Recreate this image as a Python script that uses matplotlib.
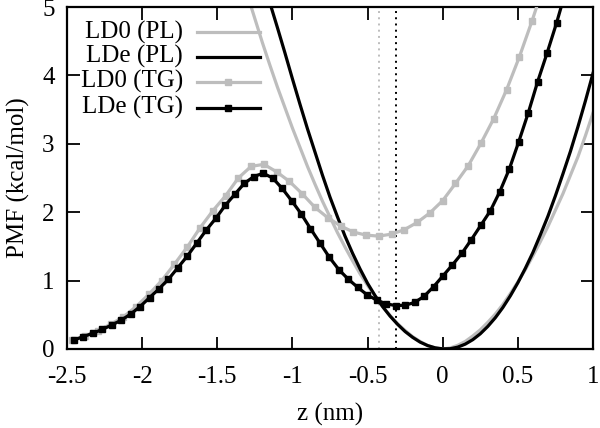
import matplotlib.pyplot as plt
from matplotlib.lines import Line2D

plt.rcParams['font.family'] = ['Liberation Serif', 'DejaVu Serif']

GRAY = '#bdbdbd'

# LD0 (PL)
pl0_z = [-1.30, -1.25, -1.20, -1.15, -1.10, -1.05, -1.00, -0.95, -0.90, -0.85,
         -0.80, -0.75, -0.70, -0.65, -0.60, -0.55, -0.50, -0.45, -0.40, -0.35,
         -0.30, -0.25, -0.20, -0.15, -0.10, -0.05, 0.00, 0.05, 0.10, 0.15,
         0.20, 0.25, 0.30, 0.35, 0.40, 0.45, 0.50, 0.55, 0.60, 0.65,
         0.70, 0.75, 0.80, 0.85, 0.90, 0.95, 1.00]
pl0_pmf = [5.18, 4.83, 4.48, 4.15, 3.83, 3.53, 3.23, 2.95, 2.67, 2.41,
           2.16, 1.93, 1.70, 1.49, 1.29, 1.10, 0.93, 0.77, 0.62, 0.49,
           0.37, 0.27, 0.18, 0.11, 0.05, 0.015, 0.0, 0.015, 0.054, 0.11,
           0.19, 0.28, 0.39, 0.51, 0.65, 0.81, 0.98, 1.16, 1.36, 1.57,
           1.79, 2.03, 2.27, 2.54, 2.81, 3.12, 3.45]

# LDe (PL)
ple_z = [-1.20, -1.15, -1.10, -1.05, -1.00, -0.95, -0.90, -0.85, -0.80, -0.75,
         -0.70, -0.65, -0.60, -0.55, -0.50, -0.45, -0.40, -0.35, -0.30, -0.25,
         -0.20, -0.15, -0.10, -0.05, 0.00, 0.05, 0.10, 0.15, 0.20, 0.25,
         0.30, 0.35, 0.40, 0.45, 0.50, 0.55, 0.60, 0.65, 0.70, 0.75,
         0.80, 0.85, 0.90, 0.95, 1.00]
ple_pmf = [5.45, 5.06, 4.70, 4.33, 3.95, 3.58, 3.22, 2.88, 2.54, 2.22,
           1.93, 1.65, 1.40, 1.17, 0.96, 0.78, 0.62, 0.48, 0.36, 0.255,
           0.17, 0.10, 0.05, 0.017, 0.002, 0.004, 0.027, 0.071, 0.136, 0.222,
           0.33, 0.457, 0.606, 0.777, 0.968, 1.18, 1.41, 1.67, 1.94, 2.24,
           2.56, 2.89, 3.25, 3.63, 4.03]

# LD0 (TG)
tg0_z = [-2.465, -2.380, -2.295, -2.210, -2.125, -2.040, -1.955, -1.870, -1.785, -1.700,
         -1.615, -1.530, -1.445, -1.360, -1.275, -1.190, -1.105, -1.020, -0.935, -0.850,
         -0.765, -0.680, -0.595, -0.510, -0.425, -0.340, -0.255, -0.170, -0.085, 0.000,
         0.085, 0.170, 0.255, 0.340, 0.425, 0.510, 0.595, 0.680]
tg0_pmf = [0.13, 0.19, 0.27, 0.36, 0.47, 0.62, 0.80, 1.00, 1.24, 1.49,
           1.77, 2.02, 2.24, 2.50, 2.67, 2.70, 2.59, 2.45, 2.27, 2.07,
           1.92, 1.80, 1.71, 1.665, 1.65, 1.68, 1.745, 1.85, 1.99, 2.17,
           2.42, 2.68, 3.01, 3.37, 3.79, 4.27, 4.80, 5.37]

# LDe (TG)
tge_z = [-2.455, -2.392, -2.329, -2.266, -2.203, -2.140, -2.077, -2.014, -1.951, -1.888,
         -1.825, -1.762, -1.699, -1.636, -1.573, -1.510, -1.447, -1.384, -1.321, -1.258,
         -1.195, -1.132, -1.069, -1.006, -0.943, -0.880, -0.817, -0.754, -0.691, -0.628,
         -0.565, -0.502, -0.439, -0.376, -0.313, -0.250, -0.187, -0.124, -0.061, 0.002,
         0.065, 0.128, 0.191, 0.254, 0.317, 0.380, 0.443, 0.506, 0.569, 0.632,
         0.695, 0.758, 0.821]
tge_pmf = [0.13, 0.18, 0.23, 0.285, 0.35, 0.42, 0.51, 0.62, 0.75, 0.88,
           1.02, 1.19, 1.36, 1.55, 1.74, 1.91, 2.10, 2.26, 2.42, 2.52,
           2.57, 2.50, 2.35, 2.17, 1.98, 1.76, 1.55, 1.34, 1.16, 1.02,
           0.90, 0.79, 0.715, 0.66, 0.635, 0.64, 0.68, 0.77, 0.91, 1.07,
           1.23, 1.40, 1.60, 1.81, 2.02, 2.30, 2.63, 3.03, 3.45, 3.91,
           4.33, 4.77, 5.25]

# positions of the TG minima (dotted lines)
tg0_min_z = -0.424
tge_min_z = -0.311

FS = 18
MS = 4.7

fig = plt.figure(figsize=(6.0, 4.28), dpi=100)
ax = fig.add_axes([0.1117, 0.1846, 0.8766, 0.7990])

ax.plot([tg0_min_z, tg0_min_z], [0, 5], color=GRAY, lw=1.4, ls=(0, (1, 2.2)), zorder=1)
ax.plot([tge_min_z, tge_min_z], [0, 5], color='black', lw=1.4, ls=(0, (1, 2.2)), zorder=1)

ax.plot(pl0_z, pl0_pmf, color=GRAY, lw=2.3, zorder=2)
ax.plot(ple_z, ple_pmf, color='black', lw=2.3, zorder=3)
ax.plot(tg0_z, tg0_pmf, color=GRAY, lw=2.3, marker='s', ms=MS, zorder=4)
ax.plot(tge_z, tge_pmf, color='black', lw=2.3, marker='s', ms=MS, zorder=5)

ax.set_xlim(-2.5, 1)
ax.set_ylim(0, 5)
ax.set_xticks([-2.5, -2, -1.5, -1, -0.5, 0, 0.5, 1])
ax.set_xticklabels(['-2.5', '-2', '-1.5', '-1', '-0.5', '0', '0.5', '1'])
ax.set_yticks([0, 1, 2, 3, 4, 5])
ax.tick_params(direction='in', top=True, right=True, length=9, width=1.3,
               labelsize=FS)
ax.tick_params(axis='x', pad=12)
ax.tick_params(axis='y', pad=9)
for s in ax.spines.values():
    s.set_linewidth(1.6)

ax.set_xlabel('z (nm)', fontsize=FS, labelpad=11)
ax.set_ylabel('PMF (kcal/mol)', fontsize=FS, labelpad=9)

# gnuplot-style key: right-aligned text, sample line after it
key_rows = [('LD0 (PL)', GRAY, None), ('LDe (PL)', 'black', None),
            ('LD0 (TG)', GRAY, 's'), ('LDe (TG)', 'black', 's')]
key_y = [0.927, 0.854, 0.781, 0.705]
for (lab, col, mk), y in zip(key_rows, key_y):
    ax.text(0.2205, y, lab, transform=ax.transAxes, ha='right', va='center',
            fontsize=FS)
    ax.add_line(Line2D([0.247, 0.367], [y, y], transform=ax.transAxes,
                       color=col, lw=2.3))
    if mk:
        ax.add_line(Line2D([0.307], [y], transform=ax.transAxes, color=col,
                           marker=mk, ms=MS, ls='none'))

fig.savefig('out.png', dpi=100)
